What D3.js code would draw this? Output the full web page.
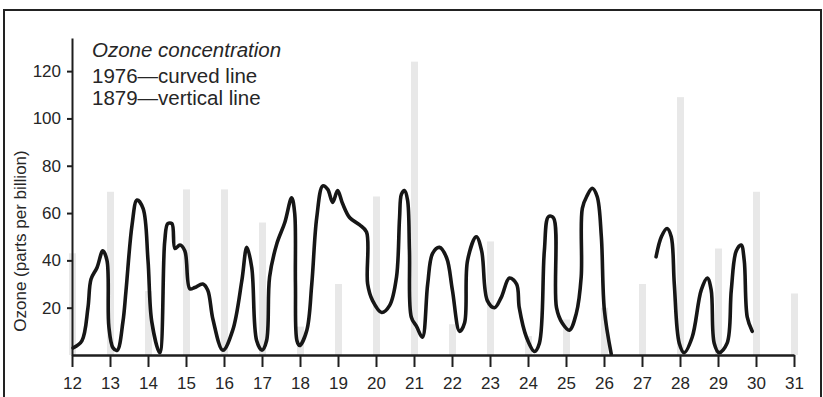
<!DOCTYPE html>
<html>
<head>
<meta charset="utf-8">
<script src="https://cdnjs.cloudflare.com/ajax/libs/d3/7.8.5/d3.min.js"></script>
<style>
    body { margin: 0; background: #fff; }
    svg { display: block; font-family: "Liberation Sans", Arial, Helvetica, sans-serif; }
    .axis path, .axis line { stroke: #1e1e1e; }
    .axis text { fill: #262626; font-size: 17px; }
</style>
</head>
<body>
<div class="chart"></div>
<script>
// days of the month on the x axis
var days = [12, 13, 14, 15, 16, 17, 18, 19, 20, 21, 22, 23, 24, 25, 26, 27, 28, 29, 30, 31];
var yTicks = [20, 40, 60, 80, 100, 120];

// 1879 readings, one per day (vertical lines)
var ozone1879 = [43, 69, 27, 70, 70, 56, 12, 30, 67, 124, 13, 48, 8, 15, 20, 30, 109, 45, 69, 26];

// 1976 readings (curved line), two pieces with a gap around the 27th
var curveDays1 = [12.03, 12.26, 12.42, 12.50, 12.66, 12.81, 12.92, 12.97, 13.08, 13.19,
    13.34, 13.42, 13.58, 13.71, 13.87, 14.00, 14.10, 14.31, 14.44, 14.52,
    14.63, 14.71, 14.84, 14.97, 15.10, 15.23, 15.44, 15.57, 15.71, 15.97,
    16.23, 16.47, 16.60, 16.73, 16.86, 17.00, 17.12, 17.20, 17.39, 17.60,
    17.78, 17.86, 17.88, 17.92, 17.99, 18.18, 18.31, 18.44, 18.60, 18.73,
    18.86, 18.99, 19.12, 19.31, 19.57, 19.75, 19.78, 19.91, 20.15, 20.36,
    20.54, 20.62, 20.67, 20.75, 20.83, 20.88, 20.93, 21.07, 21.22, 21.36,
    21.49, 21.67, 21.86, 22.01, 22.20, 22.33, 22.41, 22.64, 22.78, 22.93,
    23.12, 23.30, 23.51, 23.70, 23.77, 23.96, 24.17, 24.30, 24.43, 24.54,
    24.67, 24.75, 24.90, 25.09, 25.27, 25.40, 25.43, 25.56, 25.69, 25.82,
    25.93, 26.01, 26.19];
var curveValues1 = [3, 6, 20, 32, 37, 44, 40, 12, 3, 2,
    14, 27, 55, 65.5, 62, 40, 14, 1, 48, 55.5,
    55.5, 45, 46.5, 44, 28, 28.5, 30, 27.5, 15, 2,
    10.5, 31.5, 45.5, 37, 6, 2, 6, 33, 47, 56,
    66.5, 60, 30, 6, 4, 10.5, 30, 58, 71.5, 70,
    64.5, 69.5, 64, 58, 55, 52, 30, 23, 18, 21,
    33, 58, 68, 69.5, 65.5, 44, 16, 12, 7.5, 30,
    43, 45.5, 41, 27.5, 10, 13.5, 40, 50, 44, 23,
    20, 24.5, 32.5, 30, 20, 7.5, 1.5, 5, 44, 58.5,
    58, 20, 13.5, 10.5, 17.5, 33, 62, 67.5, 70.5, 67,
    50, 19, 0.5];
var curveDays2 = [27.37, 27.51, 27.66, 27.77, 27.85, 27.98, 28.11, 28.32, 28.56, 28.72,
    28.82, 28.90, 29.03, 29.24, 29.35, 29.48, 29.61, 29.69, 29.77, 29.90];
var curveValues2 = [41.5, 50, 53.5, 50, 30, 5, 1, 7.5, 27.5, 32.5,
    27.5, 5, 1, 5, 27.5, 44, 46.5, 40, 16, 10];

var width = 823, height = 397;

var svg = d3.select(".chart").append("svg")
    .attr("width", width)
    .attr("height", height);

// scales
var x = d3.scaleLinear().domain([12, 31]).range([72, 794]);
var y = d3.scaleLinear().domain([0, 134]).range([355, 38]);

// frame round the figure
svg.append("rect")
    .attr("x", 4)
    .attr("y", 10)
    .attr("width", 817)
    .attr("height", 400)
    .attr("fill", "none")
    .attr("stroke", "#222")
    .attr("stroke-width", 2);

// 1879 vertical lines
svg.selectAll(".bar")
    .data(ozone1879)
    .enter().append("rect")
    .attr("class", "bar")
    .attr("x", function (d, i) { return x(days[i]) - 3; })
    .attr("width", 7)
    .attr("y", function (d) { return y(d); })
    .attr("height", function (d) { return y(0) - y(d); })
    .style("fill", "#e8e8e8");

// x axis
var xAxis = svg.append("g")
    .attr("class", "axis")
    .attr("transform", "translate(0," + y(0) + ")")
    .call(d3.axisBottom(x)
        .tickValues(days)
        .tickFormat(d3.format("d"))
        .tickSize(12)
        .tickSizeOuter(0)
        .tickPadding(10));
xAxis.select(".domain").attr("stroke-width", 2.5);
xAxis.selectAll(".tick line").attr("stroke-width", 2);

// y axis
var yAxis = svg.append("g")
    .attr("class", "axis")
    .attr("transform", "translate(" + x(12) + ",0)")
    .call(d3.axisLeft(y)
        .tickValues(yTicks)
        .tickSize(5)
        .tickSizeOuter(0)
        .tickPadding(6));
yAxis.select(".domain").attr("stroke-width", 2);
yAxis.selectAll(".tick line").attr("stroke-width", 2);

// y axis title
svg.append("text")
    .attr("transform", "translate(26,241) rotate(-90)")
    .attr("text-anchor", "middle")
    .style("font-size", "17px")
    .style("fill", "#262626")
    .text("Ozone (parts per billion)");

// 1976 curve
var line = d3.line()
    .x(function (d) { return x(d[0]); })
    .y(function (d) { return y(d[1]); })
    .curve(d3.curveCatmullRom.alpha(0.5));

[[curveDays1, curveValues1], [curveDays2, curveValues2]].forEach(function (s) {
    var pts = s[0].map(function (d, i) { return [d, s[1][i]]; });
    svg.append("path")
        .datum(pts)
        .attr("d", line)
        .attr("fill", "none")
        .attr("stroke", "#161616")
        .attr("stroke-width", 3.6)
        .attr("stroke-linejoin", "round")
        .attr("stroke-linecap", "round");
});

// legend text
var legend = [
    {text: "Ozone concentration", italic: true},
    {text: "1976\u2014curved line", italic: false},
    {text: "1879\u2014vertical line", italic: false}
];
svg.selectAll(".legend")
    .data(legend)
    .enter().append("text")
    .attr("class", "legend")
    .attr("x", 92)
    .attr("y", function (d, i) { return [57, 83, 105][i]; })
    .style("font-size", "20.5px")
    .style("font-style", function (d) { return d.italic ? "italic" : "normal"; })
    .style("fill", "#262626")
    .text(function (d) { return d.text; });
</script>
</body>
</html>
